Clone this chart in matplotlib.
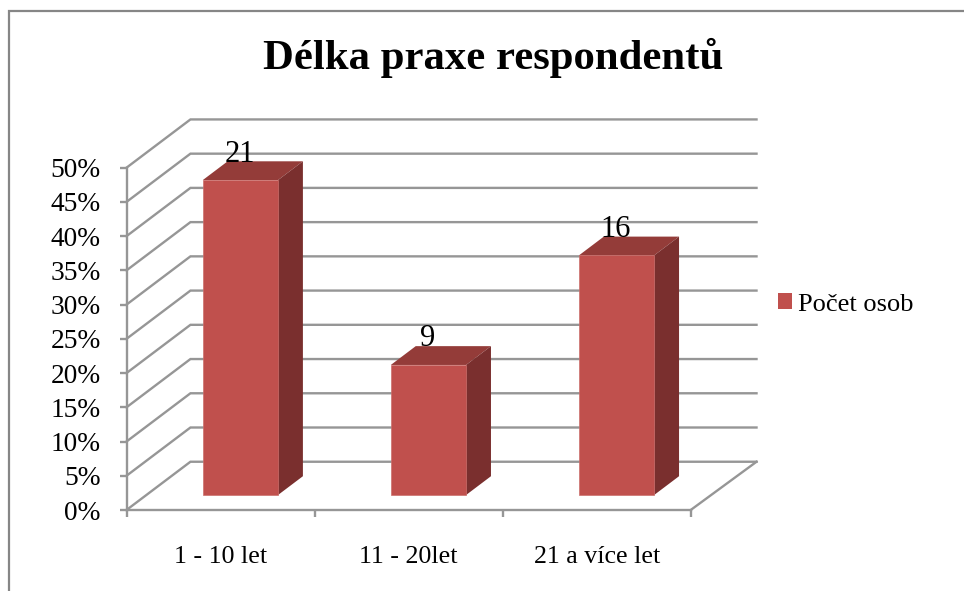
import matplotlib
matplotlib.use('Agg')
import matplotlib.pyplot as plt
from matplotlib.lines import Line2D
from matplotlib.patches import Polygon

plt.rcParams['font.family'] = ['Liberation Serif', 'DejaVu Serif']

# values
categories = ['1 - 10 let', '11 - 20let', '21 a více let']
percent = [46, 19, 35]
counts = [21, 9, 16]
yticks = list(range(0, 55, 5))
series_name = 'Počet osob'
title = 'Délka praxe respondentů'

W, H = 964, 591
FRONT = '#C0504D'
TOP = '#943C39'
SIDE = '#7A2F2E'
EDGE = '#CC6F6C'
GRID = '#969696'

# oblique depth of the fake 3d box, in data units
depth_x = 0.34
depth_x_right = 0.35
depth_y = 7.05
bar_w = 0.4
bar_start = 0.31  # where the bar starts inside the depth
bar_depth = 0.39


def px(x0, y0, w, h):
    return [x0 / W, 1 - (y0 + h) / H, w / W, h / H]


fig = plt.figure(figsize=(W / 100, H / 100), dpi=100, facecolor='white')
ax = fig.add_axes(px(126.5, 167.7, 564.2, 342.3))
ax.set_xlim(0, 3)
ax.set_ylim(0, 50)
ax.patch.set_visible(False)

# gridlines run from the front edge to the back wall
for v in yticks:
    ax.plot([0, depth_x, 3 + depth_x_right], [v, v + depth_y, v + depth_y], color=GRID,
            lw=1.7, clip_on=False, zorder=1, solid_joinstyle='miter')
ax.plot([3, 3 + depth_x_right], [0, depth_y], color=GRID, lw=1.7, clip_on=False, zorder=1)

for i, v in enumerate(percent):
    left = i + 0.5 - bar_w / 2 + depth_x * bar_start
    right = left + bar_w
    y0 = depth_y * bar_start
    y1 = y0 + v
    dx = depth_x * bar_depth
    dy = depth_y * bar_depth
    ax.add_patch(Polygon([(left, y1), (right, y1), (right + dx, y1 + dy), (left + dx, y1 + dy)],
                         facecolor=TOP, edgecolor='none', clip_on=False, zorder=3))
    ax.add_patch(Polygon([(right, y0), (right + dx, y0 + dy), (right + dx, y1 + dy), (right, y1)],
                         facecolor=SIDE, edgecolor='none', clip_on=False, zorder=3))
    ax.bar(left + bar_w / 2, v, bar_w, bottom=y0, color=FRONT, edgecolor=EDGE, linewidth=0.5,
           clip_on=False, zorder=4, label=series_name if i == 0 else None)
    ax.text(left + bar_w / 2 - 0.005, y1 + 2.7, str(counts[i]), ha='center', va='baseline',
            fontsize=22, color='black', zorder=5)

for s in ['top', 'right']:
    ax.spines[s].set_visible(False)
for s in ['left', 'bottom']:
    ax.spines[s].set_color(GRID)
    ax.spines[s].set_linewidth(1.7)
    ax.spines[s].set_zorder(2)

ax.set_yticks(yticks)
ax.set_yticklabels([str(v) + '%' for v in yticks], fontsize=19.7)
ax.set_xticks(range(4))
ax.set_xticklabels([])
ax.set_xticks([0.5, 1.5, 2.5], minor=True)
ax.set_xticklabels(categories, minor=True, fontsize=18.7)
ax.tick_params(axis='y', color=GRID, width=1.7, length=5, pad=13.5)
ax.tick_params(axis='x', which='major', color=GRID, width=1.7, length=5)
ax.tick_params(axis='x', which='minor', length=0, pad=26)

fig.text(493 / W, 1 - 58 / H, title, ha='center', va='center', fontsize=30.8, fontweight='bold')

ax.legend(loc='center left', bbox_to_anchor=(778 / W, 1 - 304.5 / H), bbox_transform=fig.transFigure,
          frameon=False, fontsize=19, handlelength=0.53, handleheight=0.53, handletextpad=0.23,
          borderpad=0, borderaxespad=0)
leg = ax.get_legend()
leg.legend_handles[0].set_edgecolor('none')

# outer chart frame, only top and left are in the crop
fig.add_artist(Line2D([8.5 / W, 8.5 / W, 1], [0, 1 - 10.5 / H, 1 - 10.5 / H], color='#868686', lw=1.6,
                      solid_joinstyle='miter'))

fig.savefig('out.png', dpi=100, facecolor='white')
